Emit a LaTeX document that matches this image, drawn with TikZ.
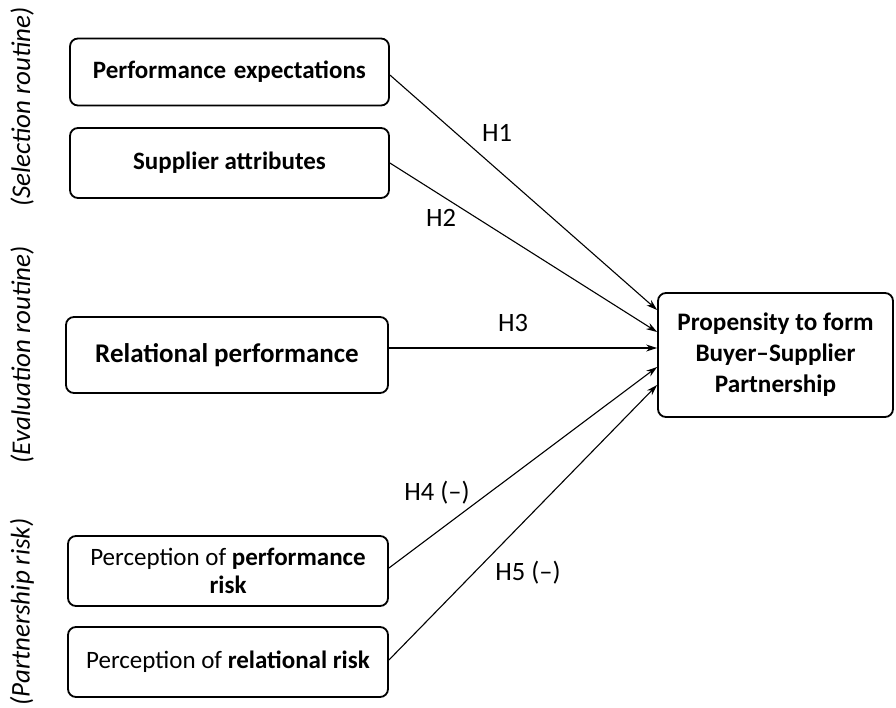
\documentclass[tikz,border=0pt]{standalone}
\usepackage{fontspec}
\setmainfont{Carlito}
\usetikzlibrary{arrows.meta}
\begin{document}
\begin{tikzpicture}[x=1pt,y=-1pt,
  box/.style={draw=black,line width=1.8pt,rounded corners=8pt,inner sep=0pt,align=center,font=\fontsize{25}{29}\selectfont},
  conn/.style={line width=1.1pt,-{Stealth[length=11pt,width=7pt]}},
  hlab/.style={font=\fontsize{26.5}{30}\selectfont,inner sep=0pt},
  side/.style={rotate=90,font=\fontsize{27}{30}\selectfont\itshape,inner sep=0pt}]
\useasboundingbox (0,0) rectangle (896,707);
\node[box,minimum width=319pt,minimum height=67pt] (pe) at (229.5,72) {\bfseries Performance\hspace{0.3em}expectations};
\node[box,minimum width=319pt,minimum height=70pt] (sa) at (229.5,163) {\bfseries Supplier attributes};
\node[box,minimum width=322pt,minimum height=76pt,font=\fontsize{27}{32}\selectfont] (rp) at (227,355) {\bfseries Relational performance};
\node[box,minimum width=320pt,minimum height=70pt,font=\fontsize{25}{27.5}\selectfont] (pr) at (228,571) {Perception of \textbf{performance}\\\textbf{risk}};
\node[box,minimum width=320pt,minimum height=70pt] (rr) at (228,662) {Perception of \textbf{relational risk}};
\node[box,minimum width=235pt,minimum height=124pt,font=\fontsize{25.2}{31}\selectfont\bfseries] (t) at (775.5,355) {Propensity to form\\Buyer--Supplier\\Partnership};
\node[side] (s1) at (22,107) {(Selection routine)};
\node[side] (s2) at (22,355) {(Evaluation routine)};
\node[side] (s3) at (22,612) {(Partnership risk)};
\draw[conn] ([yshift=-3pt]pe.east) -- ([yshift=45pt]t.west);
\draw[conn] (sa.east) -- ([yshift=23pt]t.west);
\draw[conn] ([yshift=7pt]rp.east) -- ([yshift=7pt]t.west);
\draw[conn] ([yshift=3pt]pr.east) -- ([yshift=-12pt]t.west);
\draw[conn] ([yshift=2pt]rr.east) -- ([yshift=-30pt]t.west);
\node[hlab] (h1) at (497,133) {H1};
\node[hlab] (h2) at (441,218) {H2};
\node[hlab] (h3) at (513,323) {H3};
\node[hlab] (h4) at (437,493) {H4 (--)};
\node[hlab] (h5) at (528,573) {H5 (--)};
\end{tikzpicture}
\end{document}
